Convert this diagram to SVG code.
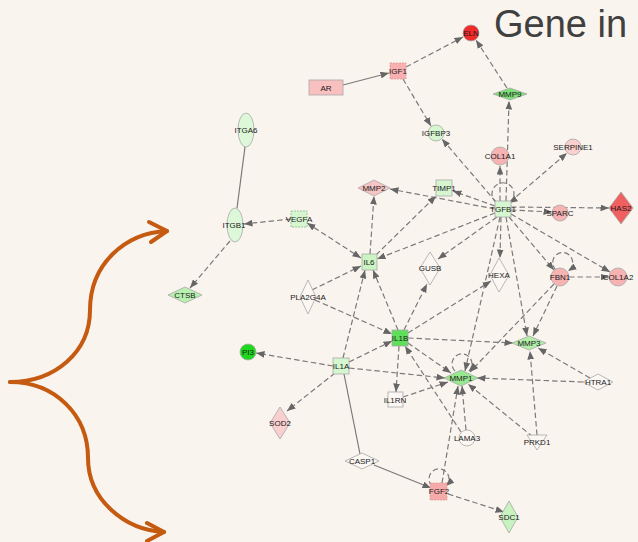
<svg xmlns="http://www.w3.org/2000/svg" width="638" height="542" viewBox="0 0 638 542">
<defs>
<style>
.e{stroke:#7a7a7a;stroke-width:1.2;stroke-dasharray:5.5 3;fill:none}
.s{stroke:#7a7a7a;stroke-width:1.2;fill:none}
.ea{marker-end:url(#ah)}
.lbl{font-family:"Liberation Sans",Arial,sans-serif;font-size:8px;fill:#1a1a1a;text-anchor:middle;dominant-baseline:central}
.n{stroke:#a8a8a8;stroke-width:0.8}
.w{fill:#fbf7f3}
.lg{fill:#d6f6d0}
.lg2{fill:#dcf8d8}
.mg{fill:#b2eea8}
.pk{fill:#f7b2b2}
.pl{fill:#f9cfcf}
.br{stroke:#c55a11;stroke-width:4;fill:none;stroke-linecap:round;stroke-linejoin:round}
</style>
<marker id="ah" viewBox="0 0 10 8" refX="10" refY="4" markerWidth="8.5" markerHeight="6.8" markerUnits="userSpaceOnUse" orient="auto"><path d="M0,0L10,4L0,8z" fill="#666"/></marker>
<marker id="as" viewBox="0 0 10 8" refX="10" refY="4" markerWidth="8.5" markerHeight="6.8" markerUnits="userSpaceOnUse" orient="auto-start-reverse"><path d="M0,0L10,4L0,8z" fill="#666"/></marker>
</defs>
<rect x="0" y="0" width="638" height="542" fill="#faf4ee"/>
<text x="494" y="37" font-family="'Liberation Sans',Arial,sans-serif" font-size="38" fill="#404040">Gene in</text>
<g id="brace">
<path class="br" d="M10,382 C55,382 90,352 90,310 C90,264 125,233 167,231"/>
<path class="br" d="M149,222 L167,231 L151,242"/>
<path class="br" d="M10,382 C55,382 88,415 88,458 C88,500 125,530 164,532"/>
<path class="br" d="M147,523 L164,532 L147,541"/>
</g>
<g id="connectors">
<line class="s ea" x1="343" y1="85" x2="389" y2="73"/>
<line class="e ea" x1="406" y1="67" x2="463" y2="37"/>
<line class="e ea" x1="507" y1="88" x2="476" y2="40"/>
<line class="e ea" x1="403" y1="79" x2="431" y2="126"/>
<line class="e ea" x1="506" y1="201" x2="509" y2="101"/>
<line class="e ea" x1="500" y1="201" x2="500" y2="166"/>
<line class="e ea" x1="496" y1="202" x2="442" y2="139"/>
<line class="e ea" x1="510" y1="202" x2="567" y2="153"/>
<line class="e ea" x1="495" y1="206" x2="453" y2="191"/>
<line class="e ea" x1="495" y1="209" x2="390" y2="189"/>
<line class="e ea" x1="376" y1="255" x2="436" y2="196"/>
<line class="e ea" x1="370" y1="254" x2="374" y2="196"/>
<line class="e ea" x1="307" y1="223" x2="361" y2="258" marker-start="url(#as)"/>
<line class="e ea" x1="291" y1="219" x2="244" y2="224"/>
<line class="s" x1="245" y1="147" x2="237" y2="208"/>
<line class="e ea" x1="230" y1="241" x2="190" y2="288"/>
<line class="e ea" x1="495" y1="213" x2="377" y2="259"/>
<line class="e ea" x1="497" y1="217" x2="438" y2="259"/>
<line class="e ea" x1="501" y1="217" x2="500" y2="258"/>
<line class="e ea" x1="509" y1="217" x2="554" y2="270"/>
<line class="e ea" x1="511" y1="214" x2="610" y2="272"/>
<line class="e ea" x1="511" y1="210" x2="552" y2="212"/>
<line class="e ea" x1="511" y1="207" x2="609" y2="208"/>
<line class="e ea" x1="506" y1="217" x2="527" y2="336"/>
<line class="e ea" x1="500" y1="217" x2="465" y2="371"/>
<line class="e ea" x1="557" y1="286" x2="533" y2="336"/>
<line class="e ea" x1="554" y1="284" x2="470" y2="372"/>
<line class="e ea" x1="569" y1="277" x2="609" y2="277"/>
<line class="e ea" x1="398" y1="330" x2="373" y2="270"/>
<line class="e ea" x1="343" y1="358" x2="365" y2="270"/>
<line class="e ea" x1="312" y1="290" x2="361" y2="266"/>
<line class="e ea" x1="315" y1="300" x2="392" y2="334"/>
<line class="e ea" x1="349" y1="362" x2="392" y2="341"/>
<line class="e ea" x1="404" y1="330" x2="427" y2="284"/>
<line class="e ea" x1="408" y1="333" x2="491" y2="281"/>
<line class="e ea" x1="408" y1="338" x2="513" y2="343"/>
<line class="e ea" x1="408" y1="343" x2="451" y2="373"/>
<line class="e ea" x1="399" y1="346" x2="396" y2="392"/>
<line class="e ea" x1="333" y1="366" x2="256" y2="353"/>
<line class="e ea" x1="349" y1="368" x2="445" y2="378"/>
<line class="e ea" x1="335" y1="373" x2="287" y2="411"/>
<line class="s" x1="344" y1="374" x2="360" y2="454"/>
<line class="s ea" x1="374" y1="465" x2="431" y2="488"/>
<line class="e ea" x1="448" y1="494" x2="504" y2="512"/>
<line class="e ea" x1="442" y1="483" x2="458" y2="386"/>
<line class="e ea" x1="403" y1="397" x2="448" y2="382"/>
<line class="e ea" x1="466" y1="430" x2="462" y2="386"/>
<line class="e ea" x1="461" y1="432" x2="405" y2="346"/>
<line class="e ea" x1="533" y1="437" x2="468" y2="384"/>
<line class="e ea" x1="537" y1="435" x2="530" y2="351"/>
<line class="e ea" x1="583" y1="382" x2="477" y2="378"/>
<line class="e ea" x1="590" y1="378" x2="538" y2="348"/>
<path class="e ea" d="M497,203 A11,11 0 1,1 509,203"/>
<path class="e ea" d="M556,270 A10,10 0 1,1 568,271"/>
<path class="e ea" d="M455,371 A10,10 0 1,1 469,371"/>
<path class="e ea" d="M432,486 A10,10 0 1,1 446,486"/>
</g>
<g id="node-ELN"><circle class="n" cx="471" cy="33" r="8" fill="#ee2a2a"/><text class="lbl" x="471" y="33">ELN</text></g>
<g id="node-IGF1"><rect x="390" y="63" width="16" height="16" fill="#f8b0b0" stroke="#d99" stroke-width="0.8" stroke-dasharray="2 1"/><text class="lbl" x="398" y="71">IGF1</text></g>
<g id="node-AR"><rect class="n" x="309" y="80" width="34" height="15" fill="#f9c0c0"/><text class="lbl" x="326" y="88">AR</text></g>
<g id="node-MMP9"><polygon class="n" points="510,88 527,94 510,100 493,94" fill="#80e078"/><text class="lbl" x="510" y="94">MMP9</text></g>
<g id="node-IGFBP3"><circle class="n lg" cx="436" cy="133" r="8"/><text class="lbl" x="436" y="133">IGFBP3</text></g>
<g id="node-COL1A1"><circle class="n pk" cx="500" cy="156" r="9"/><text class="lbl" x="500" y="156">COL1A1</text></g>
<g id="node-SERPINE1"><circle class="n pl" cx="573" cy="147" r="8"/><text class="lbl" x="573" y="147">SERPINE1</text></g>
<g id="node-TIMP1"><rect class="n lg" x="436" y="180" width="16" height="16"/><text class="lbl" x="444" y="188">TIMP1</text></g>
<g id="node-MMP2"><polygon class="n" points="374,180 390,188 374,196 358,188" fill="#f7c4c4"/><text class="lbl" x="374" y="188">MMP2</text></g>
<g id="node-TGFB1"><rect class="n lg" x="495" y="201" width="16" height="16"/><text class="lbl" x="503" y="209">TGFB1</text></g>
<g id="node-SPARC"><circle class="n pk" cx="560" cy="213" r="8"/><text class="lbl" x="560" y="213">SPARC</text></g>
<g id="node-HAS2"><polygon class="n" points="621,192 633,208 621,224 609,208" fill="#f06060"/><text class="lbl" x="621" y="208">HAS2</text></g>
<g id="node-ITGA6"><ellipse class="n lg2" cx="246" cy="130" rx="8" ry="17"/><text class="lbl" x="246" y="130">ITGA6</text></g>
<g id="node-ITGB1"><ellipse class="n lg2" cx="235" cy="225" rx="8" ry="17"/><text class="lbl" x="234" y="225">ITGB1</text></g>
<g id="node-VEGFA"><rect x="291" y="211" width="16" height="16" fill="#d6f6d0" stroke="#8b8" stroke-width="0.8" stroke-dasharray="2 1"/><text class="lbl" x="299" y="219">VEGFA</text></g>
<g id="node-IL6"><rect class="n" x="362" y="254" width="15" height="16" fill="#caf5c2"/><text class="lbl" x="369" y="262">IL6</text></g>
<g id="node-GUSB"><polygon class="n w" points="430,252 440,268 430,285 420,268"/><text class="lbl" x="430" y="268">GUSB</text></g>
<g id="node-HEXA"><polygon class="n w" points="499,258 509,275 499,292 490,275"/><text class="lbl" x="499" y="275">HEXA</text></g>
<g id="node-FBN1"><circle class="n pk" cx="560" cy="277" r="9"/><text class="lbl" x="560" y="277">FBN1</text></g>
<g id="node-COL1A2"><circle class="n pk" cx="618" cy="277" r="9"/><text class="lbl" x="618" y="277">COL1A2</text></g>
<g id="node-CTSB"><polygon class="n" points="185,287 202,295 185,303 168,295" fill="#b8f0b0"/><text class="lbl" x="185" y="295">CTSB</text></g>
<g id="node-PLA2G4A"><polygon class="n w" points="308,280 316,297 308,314 300,297"/><text class="lbl" x="308" y="297">PLA2G4A</text></g>
<g id="node-IL1B"><rect class="n" x="392" y="330" width="16" height="16" fill="#5fe05a"/><text class="lbl" x="400" y="338">IL1B</text></g>
<g id="node-MMP3"><polygon class="n mg" points="529,336 546,343 529,350 512,343"/><text class="lbl" x="529" y="343">MMP3</text></g>
<g id="node-PI3"><circle class="n" cx="248" cy="352" r="8" fill="#1ed81e"/><text class="lbl" x="248" y="352">PI3</text></g>
<g id="node-IL1A"><rect class="n lg" x="333" y="358" width="16" height="16"/><text class="lbl" x="341" y="366">IL1A</text></g>
<g id="node-MMP1"><polygon class="n" points="461,370 478,378 461,386 444,378" fill="#98e890"/><text class="lbl" x="461" y="378">MMP1</text></g>
<g id="node-HTRA1"><polygon class="n w" points="598,374 613,382 598,390 583,382"/><text class="lbl" x="598" y="382">HTRA1</text></g>
<g id="node-IL1RN"><rect class="n w" x="388" y="392" width="15" height="15"/><text class="lbl" x="395" y="400">IL1RN</text></g>
<g id="node-SOD2"><polygon class="n pl" points="280,407 290,423 280,439 270,423"/><text class="lbl" x="280" y="423">SOD2</text></g>
<g id="node-LAMA3"><circle class="n w" cx="467" cy="438" r="8"/><text class="lbl" x="467" y="438">LAMA3</text></g>
<g id="node-PRKD1"><polygon class="n w" points="527,435 547,435 537,450"/><text class="lbl" x="537" y="442">PRKD1</text></g>
<g id="node-CASP1"><polygon class="n w" points="362,453 379,461 362,469 345,461"/><text class="lbl" x="362" y="461">CASP1</text></g>
<g id="node-FGF2"><rect x="430" y="483" width="17" height="17" fill="#f6aaaa" stroke="#d99" stroke-width="0.8" stroke-dasharray="2 1"/><text class="lbl" x="439" y="491">FGF2</text></g>
<g id="node-SDC1"><polygon class="n" points="509,501 518,517 509,533 500,517" fill="#c8f2c0"/><text class="lbl" x="509" y="517">SDC1</text></g>
</svg>
